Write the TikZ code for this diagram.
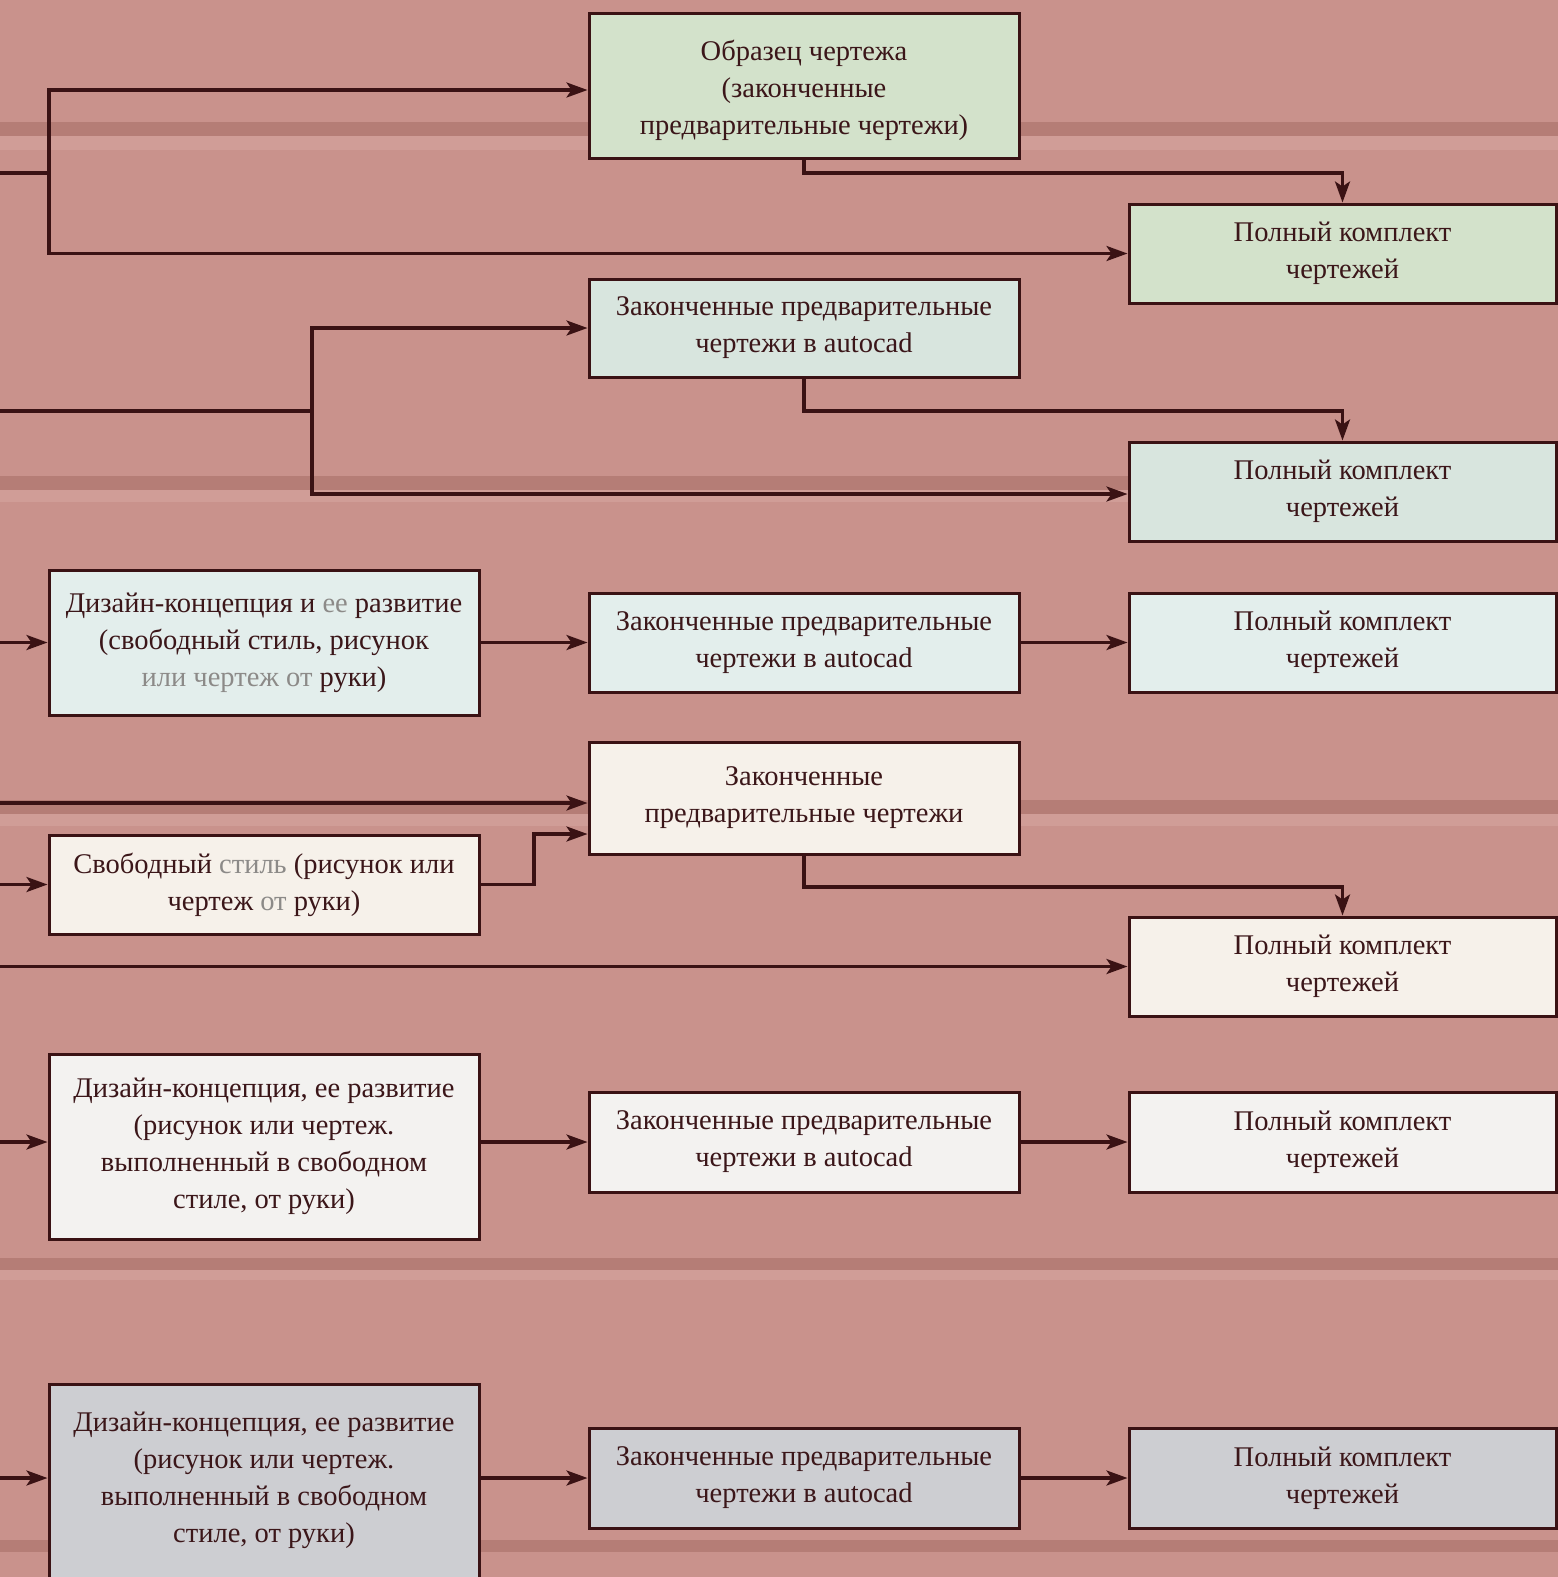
\documentclass[tikz,border=0pt]{standalone}
\usepackage{fontspec}
\setmainfont{Liberation Serif}
\usetikzlibrary{arrows.meta}
\definecolor{wood}{HTML}{C9928C}
\definecolor{woodDark}{HTML}{9E645C}
\definecolor{woodLight}{HTML}{D7A9A2}
\definecolor{greenA}{HTML}{D3E2CB}
\definecolor{greenB}{HTML}{D8E5DE}
\definecolor{mint}{HTML}{E3EEEC}
\definecolor{cream}{HTML}{F6F1EA}
\definecolor{whiteish}{HTML}{F3F2F0}
\definecolor{grayb}{HTML}{CDCED2}
\definecolor{txt}{HTML}{3B1619}
\definecolor{gtxt}{HTML}{8C8A88}
\definecolor{lineclr}{HTML}{3A1214}
\begin{document}
\begin{tikzpicture}[x=1pt,y=-1pt,
  box/.style={draw=lineclr, line width=3pt, align=center, inner sep=0pt,
    font=\fontsize{28.5}{37}\selectfont, text=txt},
  lbox/.style={box, minimum width=430pt},
  mbox/.style={box, minimum width=430pt},
  rbox/.style={box, minimum width=427pt, minimum height=99pt},
  conn/.style={draw=lineclr, line width=3.2pt},
  arr/.style={conn, -{Stealth[length=21pt,width=15pt,inset=5pt]}},
  band/.style={fill=woodDark, opacity=0.45},
  lband/.style={fill=woodLight, opacity=0.5}]
\clip (0,0) rectangle (1558,1577);
\fill[wood] (0,0) rectangle (1558,1577);
% plank seams
\fill[band] (0,122) rectangle (1558,136);
\fill[lband] (0,136) rectangle (1558,150);
\fill[band] (0,476) rectangle (1558,490);
\fill[lband] (0,490) rectangle (1558,502);
\fill[band] (0,800) rectangle (1558,814);
\fill[lband] (0,814) rectangle (1558,826);
\fill[band] (0,1258) rectangle (1558,1270);
\fill[lband] (0,1270) rectangle (1558,1280);
\fill[band] (0,1540) rectangle (1558,1552);
% row 1
\node[mbox, minimum height=145pt, fill=greenA] (b1) at (804,85.5)
  {\rule{0pt}{3pt}\\[-9pt]Образец чертежа\\(законченные\\предварительные чертежи)};
\node[rbox, fill=greenA] (b2) at (1342.5,253.5) {Полный комплект\\чертежей};
% row 2
\node[mbox, minimum height=98pt, fill=greenB] (b3) at (804,328)
  {Законченные предварительные\\чертежи в autocad};
\node[rbox, fill=greenB] (b4) at (1342.5,491.5) {Полный комплект\\чертежей};
% row 3
\node[lbox, minimum height=145pt, fill=mint] (b5) at (264,642.5)
  {Дизайн-концепция и \textcolor{gtxt}{ее} развитие\\(свободный стиль, рисунок\\\textcolor{gtxt}{или чертеж от} руки)};
\node[mbox, minimum height=99pt, fill=mint] (b6) at (804,642.5)
  {Законченные предварительные\\чертежи в autocad};
\node[rbox, fill=mint] (b7) at (1342.5,642.5) {Полный комплект\\чертежей};
% row 4
\node[mbox, minimum height=112pt, fill=cream] (b8) at (804,798)
  {Законченные\\предварительные чертежи};
\node[lbox, minimum height=99pt, fill=cream] (b9) at (264,884.5)
  {Свободный \textcolor{gtxt}{стиль} (рисунок или\\чертеж \textcolor{gtxt}{от} руки)};
\node[rbox, fill=cream] (b10) at (1342.5,966.5) {Полный комплект\\чертежей};
% row 5
\node[lbox, minimum height=185pt, fill=whiteish] (b11) at (264,1146.5)
  {Дизайн-концепция, ее развитие\\(рисунок или чертеж.\\выполненный в свободном\\стиле, от руки)};
\node[mbox, minimum height=100pt, fill=whiteish] (b12) at (804,1142)
  {Законченные предварительные\\чертежи в autocad};
\node[rbox, minimum height=100pt, fill=whiteish] (b13) at (1342.5,1142) {Полный комплект\\чертежей};
% row 6
\node[lbox, minimum height=230pt, fill=grayb] (b14) at (264,1499)
  {Дизайн-концепция, ее развитие\\(рисунок или чертеж.\\выполненный в свободном\\стиле, от руки)\\[6pt]\mbox{}};
\node[mbox, minimum height=100pt, fill=grayb] (b15) at (804,1478)
  {Законченные предварительные\\чертежи в autocad};
\node[rbox, minimum height=100pt, fill=grayb] (b16) at (1342.5,1478) {Полный комплект\\чертежей};
% coordinates
\coordinate (s1) at (0,173);
\coordinate (j1) at (49,173);
\coordinate (t1) at (49,90);
\coordinate (s2) at (0,411);
\coordinate (j2) at (312,411);
\coordinate (t2) at (312,494);
\coordinate (s3) at (0,642.5);
\coordinate (s4a) at (0,803);
\coordinate (k4) at (534,834);
\coordinate (s4b) at (0,884.5);
\coordinate (m4) at (804,887);
\coordinate (s4c) at (0,966.5);
\coordinate (s5) at (0,1142);
\coordinate (s6) at (0,1478);
% group 1
\draw[conn] (s1) -- (j1);
\draw[arr] (j1) -- (t1) -- (t1 -| b1.west);
\draw[arr] (j1) |- (b2.west);
\draw[arr] (b1.south) -- (b1.south |- j1) -| (b2.north);
% group 2
\draw[conn] (s2) -- (j2);
\draw[arr] (j2) |- (b3.west);
\draw[arr] (j2) -- (t2) -- (t2 -| b4.west);
\draw[arr] (b3.south) -- (b3.south |- j2) -| (b4.north);
% group 3
\draw[arr] (s3) -- (b5.west);
\draw[arr] (b5.east) -- (b6.west);
\draw[arr] (b6.east) -- (b7.west);
% group 4
\draw[arr] (s4a) -- (s4a -| b8.west);
\draw[arr] (b9.east) -- (b9.east -| k4) -- (k4) -- (k4 -| b8.west);
\draw[arr] (s4b) -- (b9.west);
\draw[arr] (b8.south) -- (m4) -| (b10.north);
\draw[arr] (s4c) -- (b10.west);
% group 5
\draw[arr] (s5) -- (s5 -| b11.west);
\draw[arr] (b12.west -| b11.east) -- (b12.west);
\draw[arr] (b12.east) -- (b13.west);
% group 6
\draw[arr] (s6) -- (s6 -| b14.west);
\draw[arr] (b15.west -| b14.east) -- (b15.west);
\draw[arr] (b15.east) -- (b16.west);
\end{tikzpicture}
\end{document}
